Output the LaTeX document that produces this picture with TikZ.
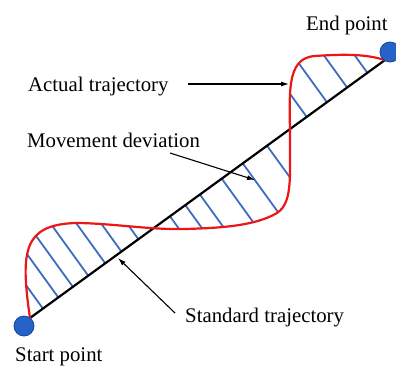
\documentclass[tikz,border=0pt]{standalone}
\usepackage{fontspec}
\setmainfont{Liberation Serif}
\usetikzlibrary{arrows.meta,calc}
\definecolor{trajred}{RGB}{236,22,22}
\definecolor{hatchblue}{RGB}{62,108,190}
\definecolor{dotfill}{RGB}{38,98,200}
\definecolor{dotdraw}{RGB}{24,66,160}
\tikzset{
  lbl/.style={font=\fontsize{20.8}{24}\selectfont, inner sep=0pt, anchor=base west},
  stdline/.style={line width=2.2pt, black},
  actline/.style={line width=2.2pt, trajred},
  hatch/.style={line width=1.8pt, hatchblue},
  pointer/.style={line width=1.1pt, -{Latex[length=8pt,width=5pt]}},
  enddot/.style={circle, fill=dotfill, draw=dotdraw, line width=0.8pt, minimum size=20pt, inner sep=0pt}
}
\begin{document}
\begin{tikzpicture}[x=1pt,y=-1pt]
\useasboundingbox (0,0) rectangle (396,365);
\coordinate (S) at (30,318);
\coordinate (E) at (385,60);
\def\redpath{(S) .. controls (20,250) and (24,225) .. (75,223)
  .. controls (110,223) and (150,230) .. (185,229)
  .. controls (220,228) and (255,226) .. (277,213)
  .. controls (292,203) and (290,180) .. (290,140)
  .. controls (290,95) and (285,58) .. (315,56)
  .. controls (345,54) and (365,54) .. (E)}
% hatching
\begin{scope}
  \clip \redpath -- cycle;
  \foreach \s in {16,35,53,72,93,113,134,173,192,210,237,263,293,342,367,392,417}{
    \draw[hatch] ($(S)+\s*(0.809,-0.588)+(-47,-65)$) -- ($(S)+\s*(0.809,-0.588)+(47,65)$);
  }
\end{scope}
% standard trajectory
\draw[stdline] (S) -- (E);
% actual trajectory
\draw[actline] \redpath;
% end points
\node[enddot] (startdot) at (24,326) {};
\node[enddot] (enddotn) at (390,52) {};
% labels
\node[lbl] (endlbl) at (306,30) {End point};
\node[lbl] (startlbl) at (15,361.5) {Start point};
\node[lbl] (actlbl) at (28,91) {Actual trajectory};
\node[lbl] (devlbl) at (27,147) {Movement deviation};
\node[lbl] (stdlbl) at (185,322) {Standard trajectory};
% pointers
\coordinate (actfrom) at (188,84);
\coordinate (actto) at (289,84);
\coordinate (devfrom) at (170,153);
\coordinate (devto) at (255,180);
\coordinate (stdfrom) at (175,313);
\coordinate (stdto) at (118,258);
\draw[pointer] (actfrom) -- (actto);
\draw[pointer] (devfrom) -- (devto);
\draw[pointer] (stdfrom) -- (stdto);
\end{tikzpicture}
\end{document}
